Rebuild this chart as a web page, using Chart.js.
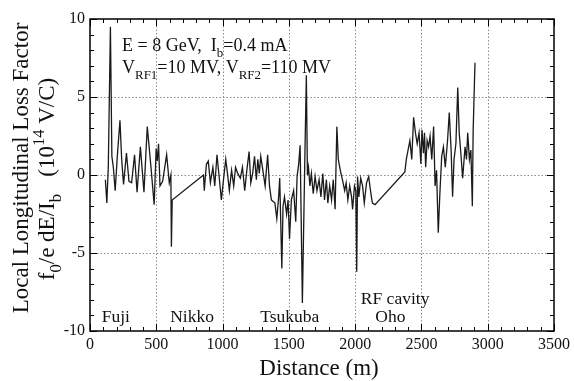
<!DOCTYPE html>
<html><head><meta charset="utf-8">
<script src="https://cdn.jsdelivr.net/npm/chart.js@4.4.1/dist/chart.umd.min.js"></script>
<style>html,body{margin:0;padding:0;background:#fff}#wrap{width:574px;height:381px;position:relative}</style>
</head><body><div id="wrap"><canvas id="c"></canvas></div>
<script>
const distances = [116,127,138,154,165,176,190,206,226,239,253,275,294,314,336,355,380,407,432,446,460,484,499,508,517,528,548,578,598,610,614,620,
856,862,878,892,908,927,941,958,974,991,1007,1024,1037,1051,1068,1084,1098,1114,1134,1150,1167,1183,1200,1213,1227,1241,1255,1266,1277,1288,1304,1321,1340,1354,1368,1382,1395,1409,1423,1431,1447,1456,1467,1483,1494,1505,1519,1536,1552,1562,1574,1585,1602,1620,1632,1640,
1648,1659,1670,1684,1698,1712,1728,1742,1756,1769,1783,1794,1808,1822,1835,1849,1862,1873,1888,1904,1921,1932,1945,1959,1973,1981,1995,2005,2012,2018,2028,2042,2056,2069,2086,2102,2119,2130,2150,
2375,2386,2399,2413,2427,2441,2455,2468,2482,2496,2504,2515,2523,2532,2543,2554,2565,2578,2592,2603,2614,2627,2639,2653,2666,2680,2697,2710,2724,2735,2746,2760,2774,2785,2799,2811,2829,2840,2849,2862,2873,2884,2890,2904];
const lossFactor = [-0.3,-1.8,0.5,9.5,1.2,0.5,-1.0,1.2,3.5,1.0,-0.6,1.4,-0.4,-0.5,1.3,-1.1,1.8,-1.1,3.1,1.8,0.5,-1.9,1.7,0.9,2.0,-0.7,-0.4,1.3,-0.5,0.0,-4.6,-1.6,
0.0,-1.0,0.7,0.9,-0.5,0.5,-0.7,1.3,-0.1,-1.6,-0.3,1.0,0.1,-1.0,0.3,-0.7,0.5,0.1,-0.2,0.5,-1.0,0.3,1.5,-0.5,0.1,1.2,-0.3,1.0,0.1,1.2,0.3,-0.7,1.3,-0.7,-1.6,-1.7,-1.8,-2.8,-1.4,-0.2,-6.0,-2.0,-1.4,-2.5,-1.6,-4.1,-1.6,-1.0,-3.0,-0.1,0.7,1.9,-8.2,0.8,6.4,0.0,
0.5,-0.7,0.1,-1.2,-0.1,-1.0,-0.3,-1.4,0.1,-1.6,-0.3,-1.8,-0.7,-1.6,-0.3,-2.2,3.1,1.0,0.3,-0.3,-1.0,-0.5,-1.6,-0.7,-1.4,-2.2,-0.7,-1.0,-6.2,-0.1,-1.4,-0.2,-0.7,-1.8,-0.5,-0.1,-1.2,-1.8,-1.9,
0.2,1.0,1.6,2.2,1.0,3.7,2.7,2.0,2.7,0.7,2.9,1.4,2.7,0.5,2.2,1.8,2.5,1.0,3.1,-0.7,0.3,-3.7,-1.2,1.2,1.8,0.5,2.2,4.0,1.6,-1.4,1.0,2.0,5.6,2.7,1.2,-0.2,1.8,1.0,2.7,1.0,1.6,-2.0,2.8,7.2];
const xTickValues = [0,500,1000,1500,2000,2500,3000,3500];
const yTickValues = [-10,-5,0,5,10];
const regionNames = ['Fuji','Nikko','Tsukuba','RF cavity','Oho'];
const regionX = [88,605,1284,2043,2152];
const regionY = [-9.45,-9.45,-9.45,-8.3,-9.45];

const SERIF = '"Liberation Serif","DejaVu Serif",serif';

function drawRich(ctx, segs, x, y, size, align) {
  const parts = segs.map(s => {
    const fs = s.t ? size*0.72 : size;
    ctx.font = fs + 'px ' + SERIF;
    return {s, fs, w: ctx.measureText(s.s).width};
  });
  const total = parts.reduce((a,p)=>a+p.w,0);
  let cx = align === 'center' ? x - total/2 : x;
  ctx.textBaseline = 'alphabetic';
  ctx.textAlign = 'left';
  for (const p of parts) {
    ctx.font = p.fs + 'px ' + SERIF;
    const dy = p.s.t === 'sub' ? size*0.32 : (p.s.t === 'sup' ? -size*0.42 : 0);
    ctx.fillText(p.s.s, cx, y + dy);
    cx += p.w;
  }
}

const decor = {
  id: 'decor',
  beforeDatasetsDraw(chart) {
    const {ctx, chartArea: a, scales: {x, y}} = chart;
    ctx.save();
    ctx.strokeStyle = '#8a8a8a';
    ctx.lineWidth = 1;
    ctx.setLineDash([1.5, 2]);
    xTickValues.slice(1, -1).forEach(v => {
      const px = Math.round(x.getPixelForValue(v)) + 0.5;
      ctx.beginPath(); ctx.moveTo(px, a.top); ctx.lineTo(px, a.bottom); ctx.stroke();
    });
    yTickValues.slice(1, -1).forEach(v => {
      const py = Math.round(y.getPixelForValue(v)) + 0.5;
      ctx.beginPath(); ctx.moveTo(a.left, py); ctx.lineTo(a.right, py); ctx.stroke();
    });
    ctx.restore();
  },
  afterDatasetsDraw(chart) {
    const {ctx, chartArea: a, scales: {x, y}} = chart;
    ctx.save();
    ctx.strokeStyle = '#000';
    ctx.lineWidth = 1;
    for (let v = 0; v <= 3500; v += 100) {
      const px = Math.round(x.getPixelForValue(v)) + 0.5;
      const L = v % 500 === 0 ? 7 : 4;
      ctx.beginPath();
      ctx.moveTo(px, a.bottom); ctx.lineTo(px, a.bottom - L);
      ctx.moveTo(px, a.top); ctx.lineTo(px, a.top + L);
      ctx.stroke();
    }
    for (let v = -10; v <= 10; v += 1) {
      const py = Math.round(y.getPixelForValue(v)) + 0.5;
      const L = v % 5 === 0 ? 7 : 4;
      ctx.beginPath();
      ctx.moveTo(a.left, py); ctx.lineTo(a.left + L, py);
      ctx.moveTo(a.right, py); ctx.lineTo(a.right - L, py);
      ctx.stroke();
    }
    ctx.lineWidth = 1.5;
    ctx.strokeRect(a.left, a.top, a.right - a.left, a.bottom - a.top);

    ctx.fillStyle = '#111';
    drawRich(ctx, [{s:'E = 8 GeV,  I'},{s:'b',t:'sub'},{s:'=0.4 mA'}], a.left + 32, a.top + 32, 18, 'left');
    drawRich(ctx, [{s:'V'},{s:'RF1',t:'sub'},{s:'=10 MV, V'},{s:'RF2',t:'sub'},{s:'=110 MV'}], a.left + 32, a.top + 54, 18, 'left');
    regionNames.forEach((n, i) => {
      drawRich(ctx, [{s:n}], x.getPixelForValue(regionX[i]), y.getPixelForValue(regionY[i]), 17.5, 'left');
    });
    drawRich(ctx, [{s:'Distance (m)'}], (a.left + a.right)/2 - 3, 375, 23, 'center');
    ctx.save();
    ctx.translate(28, (a.top + a.bottom)/2 - 7);
    ctx.rotate(-Math.PI/2);
    drawRich(ctx, [{s:'Local Longitudinal Loss Factor'}], 0, 0, 23, 'center');
    ctx.restore();
    ctx.save();
    ctx.translate(54, (a.top + a.bottom)/2 + 4);
    ctx.rotate(-Math.PI/2);
    drawRich(ctx, [{s:'f'},{s:'0',t:'sub'},{s:'/e dE/I'},{s:'b',t:'sub'},{s:'   (10'},{s:'14',t:'sup'},{s:' V/C)'}], 0, 0, 23, 'center');
    ctx.restore();
    ctx.restore();
  }
};

new Chart(document.getElementById('c'), {
  type: 'scatter',
  data: {
    datasets: [{
      data: distances.map((d, i) => ({x: d, y: lossFactor[i]})),
      showLine: true,
      borderColor: '#1a1a1a',
      borderWidth: 1.3,
      pointRadius: 0,
      tension: 0,
      fill: false
    }]
  },
  options: {
    responsive: true,
    maintainAspectRatio: false,
    animation: false,
    devicePixelRatio: 1,
    layout: {padding: {top: 19, right: 18, left: 0, bottom: 0}},
    plugins: {legend: {display: false}, tooltip: {enabled: false}},
    scales: {
      x: {
        type: 'linear', min: 0, max: 3500,
        afterBuildTicks: s => { s.ticks = xTickValues.map(v => ({value: v})); },
        afterFit: s => { s.height = 50; },
        grid: {display: false, drawTicks: false},
        border: {display: false},
        ticks: {padding: 4, color: '#111', font: {family: SERIF, size: 16}, maxRotation: 0, autoSkip: false,
                callback: v => String(v)}
      },
      y: {
        type: 'linear', min: -10, max: 10,
        afterBuildTicks: s => { s.ticks = yTickValues.map(v => ({value: v})); },
        afterFit: s => { s.width = 90; },
        grid: {display: false, drawTicks: false},
        border: {display: false},
        ticks: {padding: 5, color: '#111', font: {family: SERIF, size: 16}, callback: v => String(v)}
      }
    }
  },
  plugins: [decor]
});
</script>
</body></html>
